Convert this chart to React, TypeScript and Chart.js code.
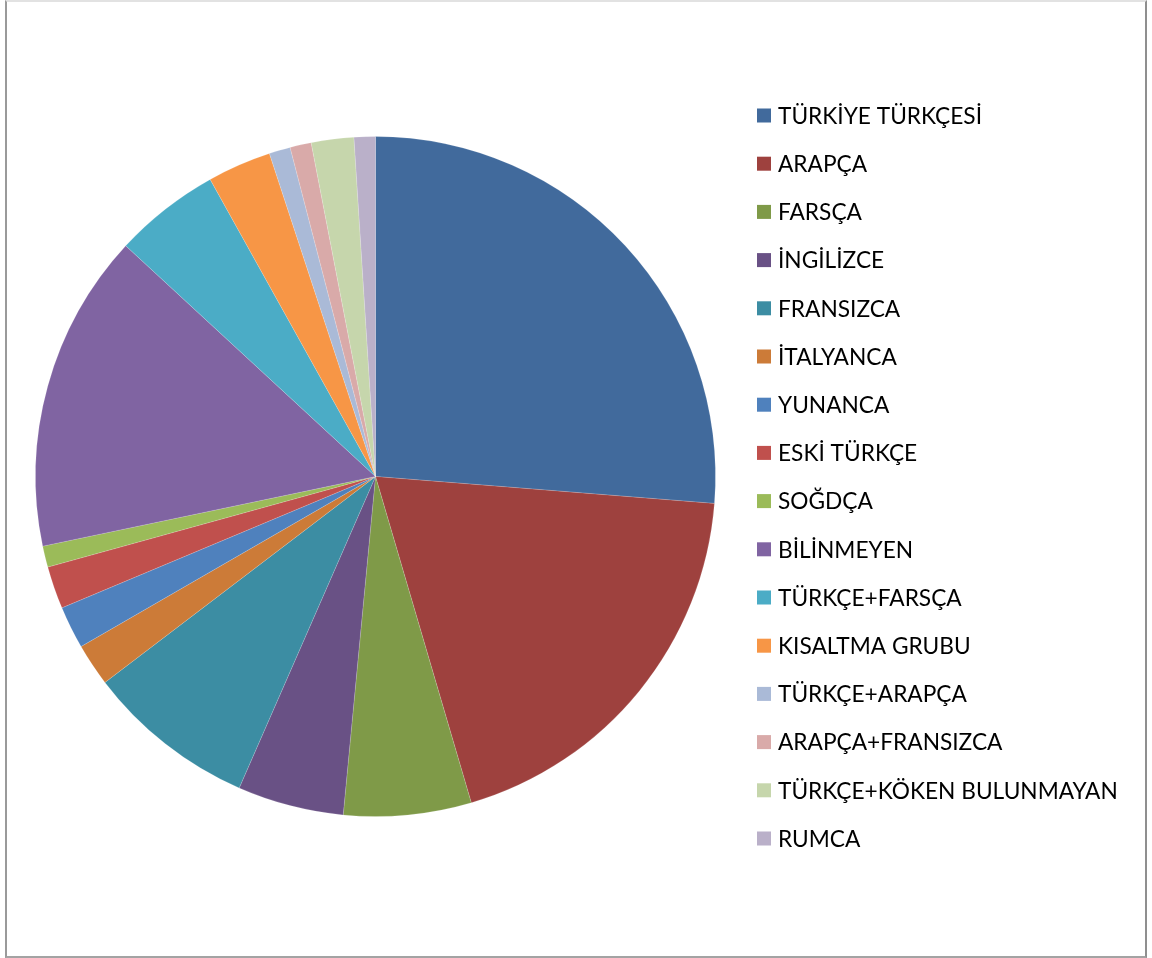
import React, { useEffect, useRef } from "react";
import { Chart, registerables } from "chart.js";

Chart.register(...registerables);

const labels: string[] = [
  "TÜRKİYE TÜRKÇESİ",
  "ARAPÇA",
  "FARSÇA",
  "İNGİLİZCE",
  "FRANSIZCA",
  "İTALYANCA",
  "YUNANCA",
  "ESKİ TÜRKÇE",
  "SOĞDÇA",
  "BİLİNMEYEN",
  "TÜRKÇE+FARSÇA",
  "KISALTMA GRUBU",
  "TÜRKÇE+ARAPÇA",
  "ARAPÇA+FRANSIZCA",
  "TÜRKÇE+KÖKEN BULUNMAYAN",
  "RUMCA",
];

const values: number[] = [26, 19, 6, 5, 8, 2, 2, 2, 1, 15, 5, 3, 1, 1, 2, 1];

const colors: string[] = [
  "#416A9C",
  "#9E413E",
  "#7F9A48",
  "#695185",
  "#3C8DA3",
  "#CC7B38",
  "#4F81BD",
  "#C0504D",
  "#9BBB59",
  "#8064A2",
  "#4BACC6",
  "#F79646",
  "#AABAD7",
  "#D9AAA9",
  "#C6D6AC",
  "#BAB0C9",
];

const legendPlugin = {
  id: "customLegend",
  afterDraw(chart: any) {
    const ctx = chart.ctx;
    const x0 = 757;
    const y0 = 115.5;
    const step = 48.2;
    ctx.save();
    ctx.font = "22.7px Lato";
    ctx.textBaseline = "middle";
    ctx.textAlign = "left";
    const lbls = chart.data.labels as string[];
    const bg = chart.data.datasets[0].backgroundColor as string[];
    lbls.forEach((l, i) => {
      const y = y0 + i * step;
      ctx.fillStyle = bg[i];
      ctx.fillRect(x0, y - 7, 14, 14);
      ctx.fillStyle = "#000000";
      ctx.fillText(l, 778, y + 1);
    });
    ctx.restore();
  },
};

export default function App() {
  const canvasRef = useRef<HTMLCanvasElement | null>(null);

  useEffect(() => {
    if (!canvasRef.current) return;
    const chart = new Chart(canvasRef.current, {
      type: "pie",
      data: {
        labels,
        datasets: [
          {
            data: values,
            backgroundColor: colors,
            borderColor: "rgba(255,255,255,0.3)",
            borderWidth: 0.5,
          },
        ],
      },
      options: {
        animation: false,
        responsive: false,
        maintainAspectRatio: false,
        radius: 340,
        layout: {
          padding: { left: 35.5, right: 436.5, top: 136.5, bottom: 141.5 },
        },
        plugins: {
          legend: { display: false },
          tooltip: { enabled: false },
          title: { display: false },
        },
      } as any,
      plugins: [legendPlugin],
    });
    return () => chart.destroy();
  }, []);

  return (
    <div
      style={{
        position: "absolute",
        left: 0,
        top: 0,
        width: 1152,
        height: 958,
        background: "#ffffff",
        overflow: "hidden",
      }}
    >
      <div
        style={{
          position: "absolute",
          left: 5,
          top: 0,
          width: 1138,
          height: 954,
          borderLeft: "2px solid #9a9a9a",
          borderRight: "2px solid #8f8f8f",
          borderBottom: "2px solid #a3a3a3",
          borderTop: "2px solid #e2e2e2",
          boxSizing: "content-box",
        }}
      />
      <canvas
        ref={canvasRef}
        width={1152}
        height={958}
        style={{ position: "absolute", left: 0, top: 0, width: 1152, height: 958 }}
      />
    </div>
  );
}
